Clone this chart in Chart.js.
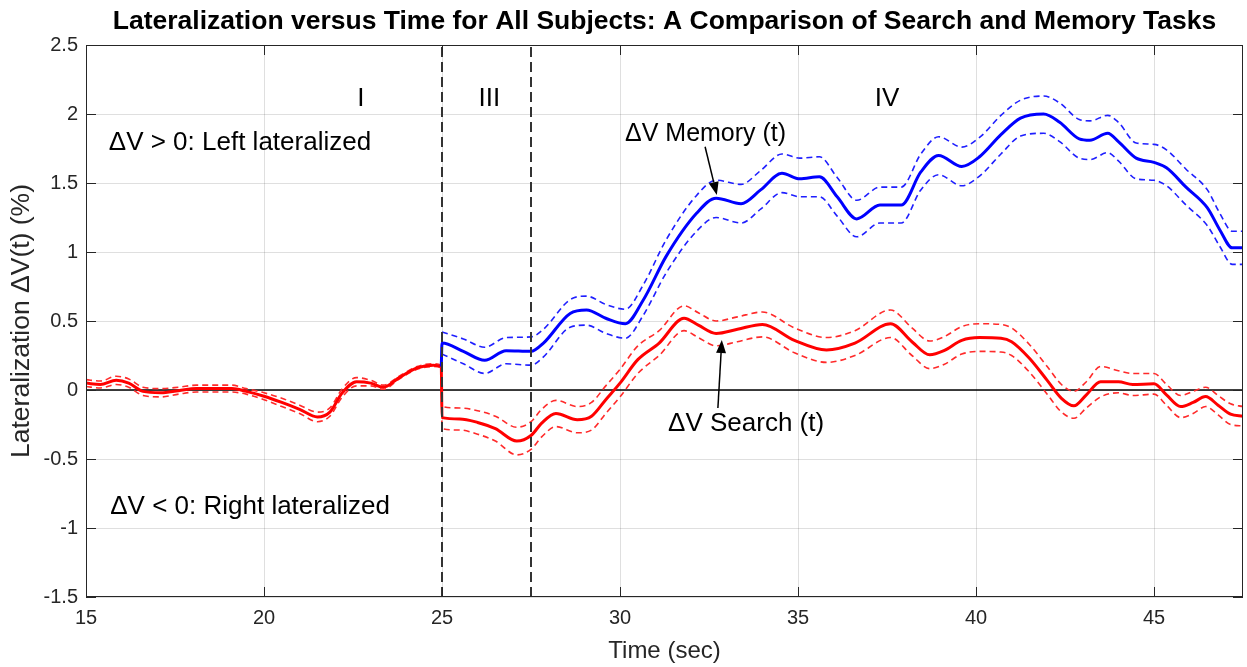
<!DOCTYPE html>
<html><head><meta charset="utf-8">
<script src="https://cdn.jsdelivr.net/npm/chart.js@4.4.1/dist/chart.umd.min.js"></script>
<style>html,body{margin:0;padding:0;background:#fff;}canvas{display:block}</style>
</head><body>
<canvas id="c" width="1247" height="667"></canvas>
<script>
// ---- tick labels ----
const xTickValues = [15, 20, 25, 30, 35, 40, 45];
const yTickValues = [-1.5, -1, -0.5, 0, 0.5, 1, 1.5, 2, 2.5];
const phaseBoundaries = [25, 27.5];

// ---- Search task (red) ----
const searchTime  = [15.0,15.4,15.85,16.2,16.6,17.1,17.6,18.1,18.6,19.1,19.5,20.0,20.5,21.0,21.5,21.85,22.2,22.6,23.0,23.35,23.8,24.3,24.75,24.98,25.0,25.5,26.0,26.5,27.1,27.5,27.8,28.2,28.8,29.2,29.6,30.0,30.5,31.1,31.8,32.2,32.7,33.3,34.0,34.9,35.8,36.6,37.6,38.2,38.7,39.1,39.6,40.1,40.7,41.0,41.5,42.0,42.4,42.75,43.1,43.5,44.0,44.4,45.0,45.35,45.75,46.1,46.45,46.8,47.15,47.5];
const searchValue = [0.05,0.04,0.07,0.05,-0.01,-0.02,-0.005,0.01,0.01,0.01,-0.01,-0.045,-0.09,-0.14,-0.195,-0.16,-0.02,0.06,0.05,0.02,0.09,0.16,0.18,0.17,-0.2,-0.21,-0.235,-0.28,-0.37,-0.33,-0.24,-0.17,-0.215,-0.19,-0.07,0.05,0.22,0.34,0.52,0.47,0.41,0.44,0.475,0.36,0.29,0.34,0.48,0.35,0.255,0.285,0.36,0.38,0.375,0.35,0.23,0.07,-0.06,-0.115,-0.035,0.06,0.06,0.04,0.045,-0.035,-0.12,-0.09,-0.048,-0.11,-0.175,-0.19];
const searchUpper = [0.075,0.065,0.10,0.08,0.02,0.01,0.02,0.035,0.035,0.035,0.01,-0.02,-0.06,-0.11,-0.16,-0.13,0.01,0.09,0.07,0.035,0.10,0.17,0.19,0.18,-0.12,-0.13,-0.15,-0.19,-0.27,-0.23,-0.14,-0.075,-0.12,-0.09,0.03,0.15,0.32,0.43,0.61,0.56,0.50,0.53,0.565,0.45,0.38,0.43,0.58,0.45,0.355,0.385,0.46,0.48,0.475,0.45,0.33,0.17,0.04,-0.01,0.06,0.17,0.14,0.12,0.12,0.04,-0.04,-0.01,0.02,-0.04,-0.10,-0.12];
const searchLower = [0.025,0.015,0.04,0.02,-0.04,-0.05,-0.03,-0.015,-0.015,-0.015,-0.03,-0.07,-0.12,-0.17,-0.23,-0.19,-0.05,0.03,0.03,0.005,0.08,0.15,0.17,0.16,-0.28,-0.29,-0.32,-0.37,-0.47,-0.43,-0.34,-0.265,-0.31,-0.29,-0.17,-0.05,0.12,0.25,0.43,0.38,0.32,0.35,0.385,0.27,0.20,0.25,0.38,0.25,0.155,0.185,0.26,0.28,0.275,0.25,0.13,-0.03,-0.16,-0.205,-0.13,-0.05,-0.02,-0.04,-0.03,-0.11,-0.20,-0.17,-0.12,-0.18,-0.25,-0.26];

// ---- Memory task (blue) ----
const memoryTime  = [24.98,25.0,25.6,26.2,26.8,27.5,27.85,28.6,29.06,29.6,30.15,30.65,31.3,32.15,32.7,33.4,33.95,34.55,35.05,35.6,36.1,36.65,37.3,37.9,38.45,38.95,39.6,40.1,40.7,41.25,41.9,42.35,42.9,43.2,43.7,44.0,44.5,45.0,45.35,45.9,46.5,46.85,47.2,47.5];
const memoryValue = [0.17,0.34,0.28,0.215,0.285,0.28,0.34,0.555,0.58,0.52,0.48,0.65,0.97,1.28,1.39,1.35,1.45,1.57,1.53,1.545,1.40,1.24,1.34,1.34,1.58,1.70,1.62,1.69,1.85,1.97,2.00,1.94,1.82,1.81,1.86,1.80,1.68,1.65,1.61,1.47,1.32,1.16,1.03,1.03];
const memoryBandTime = [25.0,25.6,26.2,26.8,27.5,27.85,28.6,29.06,29.6,30.15,30.65,31.3,32.15,32.7,33.4,33.95,34.55,35.05,35.6,36.1,36.65,37.3,37.9,38.45,38.95,39.6,40.1,40.7,41.25,41.9,42.35,42.9,43.2,43.7,44.0,44.5,45.0,45.35,45.9,46.5,46.85,47.2,47.5];
const memoryUpper = [0.42,0.37,0.31,0.38,0.385,0.44,0.655,0.68,0.62,0.585,0.76,1.09,1.41,1.52,1.49,1.59,1.71,1.68,1.69,1.54,1.375,1.47,1.47,1.71,1.835,1.76,1.83,1.99,2.10,2.13,2.08,1.96,1.95,1.99,1.94,1.79,1.78,1.74,1.60,1.45,1.28,1.15,1.15];
const memoryLower = [0.26,0.19,0.12,0.19,0.18,0.24,0.455,0.47,0.41,0.375,0.54,0.85,1.15,1.25,1.21,1.31,1.43,1.40,1.40,1.26,1.11,1.21,1.21,1.45,1.56,1.48,1.55,1.71,1.84,1.86,1.80,1.68,1.67,1.72,1.66,1.53,1.52,1.48,1.34,1.19,1.04,0.91,0.91];

const pts = (xs, ys) => xs.map((x, i) => ({x, y: ys[i]}));

const RED = '#ff0000', BLUE = '#0000ff';
const dsLine = (data, color, width, dash, order) => ({
  data, borderColor: color, borderWidth: width, borderDash: dash || [],
  pointRadius: 0, fill: false, cubicInterpolationMode: 'monotone', order
});

const datasets = [
  dsLine(pts(memoryTime, memoryValue), BLUE, 3, null, 1),
  dsLine(pts(searchTime, searchValue), RED, 3, null, 1),
  dsLine(pts(memoryBandTime, memoryUpper), '#1f1fff', 1.6, [6, 4], 2),
  dsLine(pts(memoryBandTime, memoryLower), '#1f1fff', 1.6, [6, 4], 2),
  dsLine(pts(searchTime, searchUpper), '#ff2a2a', 1.6, [6, 4], 2),
  dsLine(pts(searchTime, searchLower), '#ff2a2a', 1.6, [6, 4], 2),
  // zero reference
  { data: [{x: 15, y: 0}, {x: 47.5, y: 0}], borderColor: '#000', borderWidth: 1.5, pointRadius: 0, tension: 0, order: 4 },
  // phase boundaries
  ...phaseBoundaries.map(b => ({ data: [{x: b, y: -1.5}, {x: b, y: 2.5}], borderColor: '#333', borderWidth: 2, borderDash: [10, 5], pointRadius: 0, tension: 0, order: 0 }))
];

const FONT = "'Liberation Sans', Arial, sans-serif";

const decor = {
  id: 'decor',
  afterDatasetsDraw(chart, args, opts) {
    const {ctx, chartArea: a, scales: {x, y}} = chart;
    ctx.save();
    // box
    ctx.strokeStyle = '#262626'; ctx.lineWidth = 1;
    ctx.strokeRect(a.left + 0.5, a.top + 0.5, a.right - a.left - 1, a.bottom - a.top - 1);
    // inward ticks
    const L = 10;
    ctx.beginPath();
    xTickValues.forEach(v => { const p = Math.round(x.getPixelForValue(v)) + 0.5;
      ctx.moveTo(p, a.bottom); ctx.lineTo(p, a.bottom - L); ctx.moveTo(p, a.top); ctx.lineTo(p, a.top + L); });
    yTickValues.forEach(v => { const p = Math.round(y.getPixelForValue(v)) + 0.5;
      ctx.moveTo(a.left, p); ctx.lineTo(a.left + L, p); ctx.moveTo(a.right, p); ctx.lineTo(a.right - L, p); });
    ctx.stroke();
    // texts
    ctx.fillStyle = '#000';
    ctx.textBaseline = 'middle';
    opts.texts.forEach(t => {
      ctx.font = (t.size || 26) + 'px ' + FONT;
      ctx.textAlign = t.align || 'left';
      ctx.fillText(t.text, x.getPixelForValue(t.x), y.getPixelForValue(t.y));
    });
    // arrows
    ctx.strokeStyle = '#000'; ctx.lineWidth = 1.5;
    opts.arrows.forEach(ar => {
      const x1 = x.getPixelForValue(ar.from[0]), y1 = y.getPixelForValue(ar.from[1]);
      const x2 = x.getPixelForValue(ar.to[0]), y2 = y.getPixelForValue(ar.to[1]);
      const ang = Math.atan2(y2 - y1, x2 - x1);
      const hl = 13, hw = 5;
      ctx.beginPath(); ctx.moveTo(x1, y1);
      ctx.lineTo(x2 - hl * Math.cos(ang), y2 - hl * Math.sin(ang)); ctx.stroke();
      ctx.beginPath(); ctx.moveTo(x2, y2);
      ctx.lineTo(x2 - hl * Math.cos(ang) + hw * Math.sin(ang), y2 - hl * Math.sin(ang) - hw * Math.cos(ang));
      ctx.lineTo(x2 - hl * Math.cos(ang) - hw * Math.sin(ang), y2 - hl * Math.sin(ang) + hw * Math.cos(ang));
      ctx.closePath(); ctx.fill();
    });
    ctx.restore();
  }
};

new Chart(document.getElementById('c'), {
  type: 'line',
  data: { datasets },
  plugins: [decor],
  options: {
    responsive: false, devicePixelRatio: 1, animation: false,
    layout: { padding: { top: 0, right: 4, left: 0, bottom: 0 } },
    plugins: {
      legend: { display: false }, tooltip: { enabled: false },
      title: { display: true, fullSize: false,
        text: 'Lateralization versus Time for All Subjects: A Comparison of Search and Memory Tasks',
        color: '#000', font: { family: FONT, size: 26.5, weight: 'bold' }, padding: { top: 6, bottom: 7.2 } },
      decor: {
        texts: [
          { text: 'I', x: 22.72, y: 2.11, align: 'center' },
          { text: 'III', x: 26.33, y: 2.11, align: 'center' },
          { text: 'IV', x: 37.5, y: 2.11, align: 'center' },
          { text: '\u0394V > 0: Left lateralized', x: 15.64, y: 1.79 },
          { text: '\u0394V < 0: Right lateralized', x: 15.68, y: -0.85 },
          { text: '\u0394V Memory (t)', x: 30.14, y: 1.855, size: 25 },
          { text: '\u0394V Search (t)', x: 31.35, y: -0.246 }
        ],
        arrows: [
          { from: [32.39, 1.763], to: [32.72, 1.413] },
          { from: [32.75, -0.13], to: [32.86, 0.362] }
        ]
      }
    },
    scales: {
      x: {
        type: 'linear', min: 15, max: 47.5,
        afterFit: s => { s.height = 70; },
        afterBuildTicks: s => { s.ticks = xTickValues.map(v => ({value: v})); },
        ticks: { padding: 9, color: '#262626', font: { family: FONT, size: 20 }, maxRotation: 0 },
        grid: { color: 'rgba(38,38,38,0.15)', drawTicks: false, lineWidth: 1 },
        border: { display: false },
        title: { display: true, text: 'Time (sec)', color: '#262626', font: { family: FONT, size: 24 }, padding: { top: 0, bottom: 1 } }
      },
      y: {
        type: 'linear', min: -1.5, max: 2.5,
        afterFit: s => { s.width = 86; },
        afterBuildTicks: s => { s.ticks = yTickValues.map(v => ({value: v})); },
        ticks: { padding: 8, color: '#262626', font: { family: FONT, size: 20 }, callback: v => String(+v.toFixed(2)) },
        grid: { color: 'rgba(38,38,38,0.15)', drawTicks: false, lineWidth: 1 },
        border: { display: false },
        title: { display: true, text: 'Lateralization \u0394V(t) (%)', color: '#262626', font: { family: FONT, size: 26.5 }, padding: { top: 6, bottom: 0 } }
      }
    }
  }
});
</script>
</body></html>
